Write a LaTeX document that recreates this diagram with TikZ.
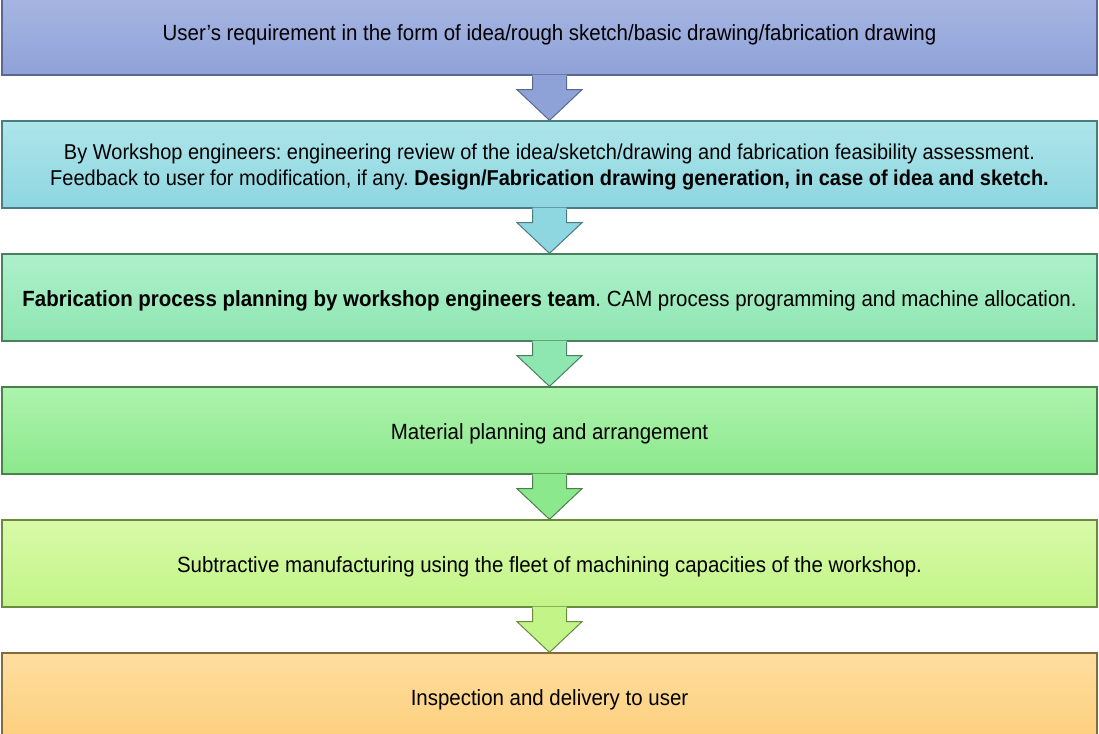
\documentclass[tikz,border=0pt]{standalone}
\usepackage{fontspec}
\setmainfont{Liberation Sans}[FakeStretch=0.93]
\usetikzlibrary{calc}
\frenchspacing
\definecolor{b1t}{HTML}{A9B7E3}\definecolor{b1b}{HTML}{8FA2D8}\definecolor{b1d}{HTML}{5A6890}
\definecolor{b2t}{HTML}{ADE5EA}\definecolor{b2b}{HTML}{8ED6E0}\definecolor{b2d}{HTML}{4A7C80}
\definecolor{b3t}{HTML}{ADF0CC}\definecolor{b3b}{HTML}{8EE6B0}\definecolor{b3d}{HTML}{4A8060}
\definecolor{b4t}{HTML}{ADF3AD}\definecolor{b4b}{HTML}{8CE88C}\definecolor{b4d}{HTML}{4A804A}
\definecolor{b5t}{HTML}{D8FAA8}\definecolor{b5b}{HTML}{C2F487}\definecolor{b5d}{HTML}{6A8A40}
\definecolor{b6t}{HTML}{FEDE9F}\definecolor{b6b}{HTML}{FDCF7D}\definecolor{b6d}{HTML}{846A3C}
\newcommand{\dn}[1]{\raisebox{-3pt}[\height][\depth]{#1}}
\tikzset{
  box/.style={rectangle, minimum width=1095pt, minimum height=87pt, inner sep=0pt,
    align=center, font=\fontsize{22}{26}\selectfont, text=black, line width=1.3pt},
}
\newcommand{\blockarrow}[4]{% from, to, fill, stroke
  \fill[#3] ($(#1.south)+(-17,-1)$) -- ($(#1.south)+(17,-1)$) -- ($(#1.south)+(17,14)$) -- ($(#1.south)+(32.5,14)$) -- (#2.north) -- ($(#1.south)+(-32.5,14)$) -- ($(#1.south)+(-17,14)$) -- cycle;
  \draw[#4, line width=1pt, line join=miter] ($(#1.south)+(17,0.8)$) -- ($(#1.south)+(17,14)$) -- ($(#1.south)+(32.5,14)$) -- (#2.north) -- ($(#1.south)+(-32.5,14)$) -- ($(#1.south)+(-17,14)$) -- ($(#1.south)+(-17,0.8)$);
}
\begin{document}
\begin{tikzpicture}[x=1pt,y=-1pt]
\useasboundingbox (0,0) rectangle (1099,733);
\clip (0,0) rectangle (1099,733);
\fill[white] (0,0) rectangle (1099,733);
\node[box, top color=b1t, bottom color=b1b, draw=b1d] (b1) at (549.5,31.5) {\dn{User’s requirement in the form of idea/rough sketch/basic drawing/fabrication drawing}};
\node[box, top color=b2t, bottom color=b2b, draw=b2d, font=\fontsize{21.5}{26}\selectfont] (b2) at (549.5,164.5) {\dn{\begin{tabular}{@{}c@{}}By Workshop engineers: engineering review of the idea/sketch/drawing and fabrication feasibility assessment.\\Feedback to user for modification, if any. \textbf{Design/Fabrication drawing generation, in case of idea and sketch.}\end{tabular}}};
\node[box, top color=b3t, bottom color=b3b, draw=b3d] (b3) at (549.5,297.5) {\dn{\textbf{Fabrication process planning by workshop engineers team}. CAM process programming and machine allocation.}};
\node[box, top color=b4t, bottom color=b4b, draw=b4d] (b4) at (549.5,430.5) {\dn{Material planning and arrangement}};
\node[box, top color=b5t, bottom color=b5b, draw=b5d] (b5) at (549.5,563.5) {\dn{Subtractive manufacturing using the fleet of machining capacities of the workshop.}};
\node[box, top color=b6t, bottom color=b6b, draw=b6d] (b6) at (549.5,696.5) {\dn{Inspection and delivery to user}};
\blockarrow{b1}{b2}{b1b}{b1d}
\blockarrow{b2}{b3}{b2b}{b2d}
\blockarrow{b3}{b4}{b3b}{b3d}
\blockarrow{b4}{b5}{b4b}{b4d}
\blockarrow{b5}{b6}{b5b}{b5d}
\end{tikzpicture}
\end{document}
